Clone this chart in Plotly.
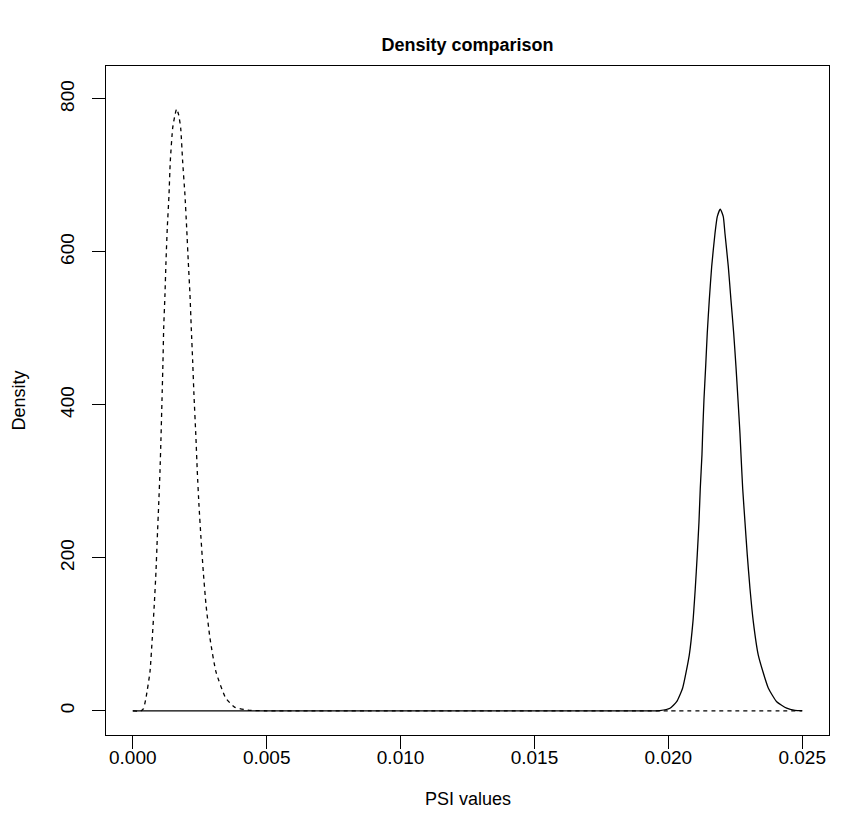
import plotly.graph_objects as go

# Solid curve
solid_x = [0.0, 0.005, 0.010, 0.015, 0.0190, 0.019314, 0.019688, 0.020061, 0.020311,
           0.020535, 0.020782, 0.02092, 0.021006, 0.02108, 0.021144, 0.021193, 0.021256,
           0.021282, 0.021331, 0.021394, 0.021454, 0.021529, 0.021619, 0.021742,
           0.021828, 0.02194, 0.022052, 0.022115, 0.022239, 0.022339, 0.02244,
           0.022526, 0.022601, 0.022675, 0.022713, 0.022776, 0.022862, 0.022948,
           0.023049, 0.023172, 0.023359, 0.023732, 0.024046, 0.02442, 0.02473, 0.0250]
solid_y = [0.0, 0.0, 0.0, 0.0, 0.0, 0.1, 0.5, 3.5, 12,
           30, 73, 117, 160, 204, 247, 291, 335,
           363, 407, 450, 494, 537, 581, 624,
           646, 656, 646, 624, 581, 537, 494,
           450, 407, 363, 335, 291, 247, 204,
           160, 117, 73, 30, 12, 3.5, 0.8, 0.3]

# Dashed curve
dashed_x = [0.0, 0.0003, 0.0004, 0.000493, 0.000642, 0.000728, 0.000803, 0.000866,
            0.000915, 0.000967, 0.001016, 0.001053, 0.00109, 0.001128, 0.001154,
            0.001202, 0.00124, 0.001288, 0.001352, 0.0014, 0.00149, 0.001576, 0.001639,
            0.001714, 0.001789, 0.001863, 0.001949, 0.002013, 0.002073, 0.002136,
            0.002185, 0.002237, 0.002285, 0.00236, 0.002409, 0.002472, 0.002547,
            0.002633, 0.002734, 0.002883, 0.003107, 0.003469, 0.0038, 0.0043,
            0.0050, 0.010, 0.015, 0.020, 0.025]
dashed_y = [0.0, 0.0, 3, 17, 51, 95, 139, 182,
            226, 269, 313, 356, 405, 457, 500,
            544, 587, 631, 674, 718, 762, 779, 787,
            779, 762, 718, 674, 631, 587, 544,
            500, 457, 413, 356, 313, 269, 226,
            182, 139, 95, 51, 17, 5, 1,
            0.1, 0.0, 0.0, 0.0, 0.0]

x_ticks = [0.000, 0.005, 0.010, 0.015, 0.020, 0.025]
y_ticks = [0, 200, 400, 600, 800]

FONT = "Liberation Sans, Arial, Helvetica, sans-serif"

fig = go.Figure()
fig.add_trace(go.Scatter(x=solid_x, y=solid_y, mode="lines",
                         line=dict(color="black", width=1.3, shape="spline", smoothing=0.5),
                         showlegend=False))
fig.add_trace(go.Scatter(x=dashed_x, y=dashed_y, mode="lines",
                         line=dict(color="black", width=1.3, dash="4px,4px",
                                   shape="spline", smoothing=0.5),
                         showlegend=False))

fig.update_layout(
    width=859, height=839,
    margin=dict(l=106, r=30, t=66, b=104),
    paper_bgcolor="white", plot_bgcolor="white",
    font=dict(family=FONT, size=19, color="black"),
    title=dict(text="<b>Density comparison</b>", x=0.5, xref="paper",
               y=1 - 45 / 839, yref="container", yanchor="middle",
               xanchor="center", font=dict(size=18, family=FONT)),
    annotations=[
        dict(text="PSI values", xref="paper", yref="paper", x=0.5,
             y=(735 - 799) / 669, showarrow=False, xanchor="center",
             yanchor="middle", font=dict(size=18, family=FONT)),
        dict(text="Density", xref="paper", yref="paper", x=(18 - 106) / 723,
             y=0.5, showarrow=False, textangle=-90, xanchor="center",
             yanchor="middle", font=dict(size=18, family=FONT)),
    ],
)
fig.update_xaxes(range=[-0.001, 0.026], tickvals=x_ticks,
                 ticktext=[f"{v:.3f}" for v in x_ticks],
                 ticks="outside", ticklen=13, tickwidth=1, tickcolor="black",
                 showline=True, linecolor="black", linewidth=1, mirror=True,
                 showgrid=False, zeroline=False, ticklabelstandoff=-8)
fig.update_yaxes(range=[-31.5, 843], tickvals=y_ticks,
                 ticktext=[str(v) for v in y_ticks], tickangle=-90,
                 ticks="outside", ticklen=13, tickwidth=1, tickcolor="black",
                 showline=True, linecolor="black", linewidth=1, mirror=True,
                 showgrid=False, zeroline=False, ticklabelstandoff=10)

fig.write_html("out.html", config={"displayModeBar": False},
               post_script="document.body.style.margin='0';document.body.style.padding='0';")
